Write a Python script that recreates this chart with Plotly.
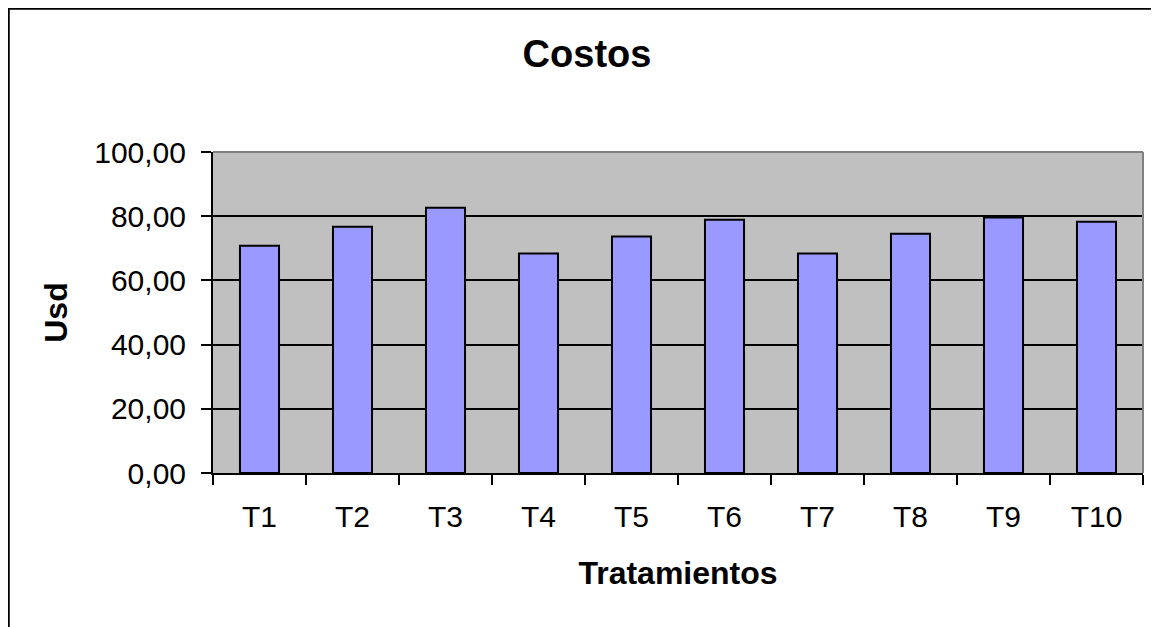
import plotly.graph_objects as go

categories = ["T1", "T2", "T3", "T4", "T5", "T6", "T7", "T8", "T9", "T10"]
costos = [70.8, 76.7, 82.6, 68.4, 73.7, 78.9, 68.4, 74.5, 79.6, 78.3]
y_ticks = [0, 20, 40, 60, 80, 100]

OFF = 8  # page body margin
W, H = 1159 - OFF, 627 - OFF
L, T = 213 - OFF, 152 - OFF
R, B = W - (1143 - OFF), H - (473 - OFF)
pw, ph = W - L - R, H - T - B

def px_x(x):
    return (x - OFF - L) / pw

def px_y(y):
    return 1 - (y - OFF - T) / ph

fig = go.Figure(go.Bar(
    x=categories, y=costos,
    marker=dict(color="#9999FF", line=dict(color="black", width=2)),
))

font = "Liberation Sans, Arial, sans-serif"
fig.update_layout(
    width=W, height=H,
    margin=dict(l=L, r=R, t=T, b=B, pad=0),
    paper_bgcolor="white", plot_bgcolor="#C0C0C0",
    separators=",.",
    bargap=0.58,
    showlegend=False,
    font=dict(family=font, color="black", size=30),
    title=dict(text="<b>Costos</b>", x=(587 - OFF) / W, xanchor="center",
               y=1 - (54 - OFF) / H, yanchor="middle", font=dict(size=38, family=font)),
    xaxis=dict(
        showline=True, linecolor="black", linewidth=2,
        ticks="outside", ticklen=10, tickwidth=2, tickcolor="black",
        tickson="boundaries", ticklabelstandoff=16,
        title=dict(text="<b>Tratamientos</b>", font=dict(size=32), standoff=30),
        showgrid=False,
    ),
    yaxis=dict(
        range=[0, 100], tickvals=y_ticks, tickformat=".2f",
        showline=True, linecolor="black", linewidth=2,
        ticks="outside", ticklen=10, tickwidth=2, tickcolor="black",
        ticklabelstandoff=9,
        showgrid=True, gridcolor="black", gridwidth=2,
        zeroline=False,
        title=dict(text="<b>Usd</b>", font=dict(size=32), standoff=17),
    ),
    shapes=[
        dict(type="line", xref="paper", yref="paper", x0=0, x1=1, y0=1, y1=1,
             line=dict(color="#808080", width=2), layer="above"),
        dict(type="line", xref="paper", yref="paper", x0=1, x1=1, y0=0, y1=1,
             line=dict(color="#808080", width=2), layer="above"),
        dict(type="rect", xref="paper", yref="paper",
             x0=px_x(8.5), x1=px_x(1180), y0=px_y(660), y1=px_y(8.5),
             line=dict(color="black", width=2.5), layer="above"),
    ],
)

fig.write_html("out.html")
